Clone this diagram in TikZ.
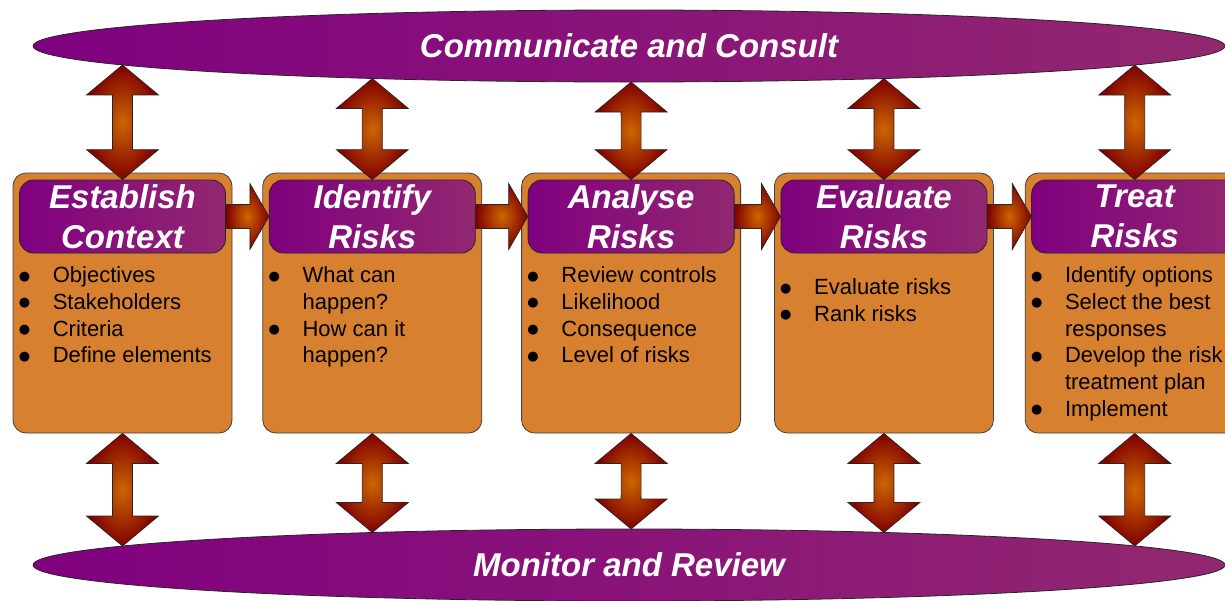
\documentclass[tikz,border=0pt]{standalone}
\usepackage{fontspec}
\setmainfont{Liberation Sans}
\newfontfamily\dotfont{DejaVu Sans}
\usetikzlibrary{positioning,shapes.geometric,intersections,calc}
\definecolor{purpA}{RGB}{128,0,128}
\definecolor{purpB}{RGB}{146,40,112}
\definecolor{boxorange}{RGB}{214,128,48}
\definecolor{arrowin}{RGB}{204,102,0}
\definecolor{arrowout}{RGB}{128,0,0}
\tikzset{
	band/.style={ellipse, draw=black!85, line width=0.8pt, left color=purpA, right color=purpB, minimum width=1192pt, minimum height=72pt, inner sep=0pt, text=white, font=\fontsize{33}{40}\selectfont\bfseries\itshape},
	stage/.style={rectangle, rounded corners=13pt, draw=black!75, line width=0.8pt, fill=boxorange, minimum width=219pt, minimum height=260pt, inner sep=0pt},
	hdr/.style={rectangle, rounded corners=14pt, draw=black!85, line width=0.8pt, left color=purpA, right color=purpB, minimum width=206pt, minimum height=73pt, inner sep=0pt, align=center, text=white, font=\fontsize{33}{40}\selectfont\bfseries\itshape},
	items/.style={anchor=north west, inner sep=0pt, align=left, font=\fontsize{22}{26.7}\selectfont},
	fat/.style={draw=black!85, line width=0.7pt, inner color=arrowin, outer color=arrowout},
}
\newcommand{\itm}[1]{\makebox[32pt][l]{\hspace*{-2pt}\raisebox{2.5pt}{\dotfont\fontsize{13}{0}\selectfont ●}}#1}
\newcommand{\cnt}[1]{\hspace*{32pt}#1}
% fat double arrow, top tip to bottom tip
\newcommand{\updown}[2]{\draw[fat] (#1) -- ++(36,30) -- ++(-26,0) -- ($(#2)+(10,-30)$) -- ++(26,0) -- (#2) -- ++(-36,-30) -- ++(26,0) -- ($(#1)+(-10,30)$) -- ++(-26,0) -- cycle;}
% fat arrow to the right
\newcommand{\fwd}[2]{\draw[fat] ($(#1)+(0,-12)$) -- ($(#2)+(-19,-12)$) -- ++(0,-21) -- (#2) -- ++(-19,33) -- ++(0,-21) -- ($(#1)+(0,12)$) -- cycle;}
\begin{document}
\begin{tikzpicture}[x=1pt, y=-1pt]
	\useasboundingbox (0,0) rectangle (1225,600);
	\clip (0,0) rectangle (1225,600);
	\node[band, name path=comm] (comm) at (629,46) {Communicate and Consult};
	\node[band, name path=mon] (mon) at (629,565) {Monitor and Review};

	\node[stage] (b1) at (122.5,303) {};
	\node[stage, right=30pt of b1] (b2) {};
	\node[stage, right=39pt of b2] (b3) {};
	\node[stage, right=33pt of b3] (b4) {};
	\node[stage, right=31pt of b4] (b5) {};

	\foreach \i/\t in {1/{Establish\\Context}, 2/{Identify\\Risks}, 3/{Analyse\\Risks}, 4/{Evaluate\\Risks}, 5/{Treat\\Risks}} {
		\node[hdr, below=7pt of b\i.north] (h\i) {\t};
		\path[name path=up\i] (h\i.north) -- (h\i.north |- comm.center);
		\path[name path=dn\i] (b\i.south) -- (b\i.south |- mon.center);
		\path[name intersections={of=comm and up\i, by=t\i}];
		\path[name intersections={of=mon and dn\i, by=m\i}];
		\updown{t\i}{h\i.north}
		\updown{b\i.south}{m\i}
	}
	\foreach \i [count=\j from 2] in {1,...,4} {
		\fwd{h\i.east}{h\j.west}
	}

	\node[items] (l1) at ([xshift=8pt, yshift=-94pt]b1.north west) {\itm{Objectives}\\\itm{Stakeholders}\\\itm{Criteria}\\\itm{Define elements}};
	\node[items] (l2) at ([xshift=8pt, yshift=-94pt]b2.north west) {\itm{What can}\\\cnt{happen?}\\\itm{How can it}\\\cnt{happen?}};
	\node[items] (l3) at ([xshift=8pt, yshift=-94pt]b3.north west) {\itm{Review controls}\\\itm{Likelihood}\\\itm{Consequence}\\\itm{Level of risks}};
	\node[items] (l4) at ([xshift=8pt, yshift=-106pt]b4.north west) {\itm{Evaluate risks}\\\itm{Rank risks}};
	\node[items] (l5) at ([xshift=8pt, yshift=-94pt]b5.north west) {\itm{Identify options}\\\itm{Select the best}\\\cnt{responses}\\\itm{Develop the risk}\\\cnt{treatment plan}\\\itm{Implement}};
\end{tikzpicture}
\end{document}
